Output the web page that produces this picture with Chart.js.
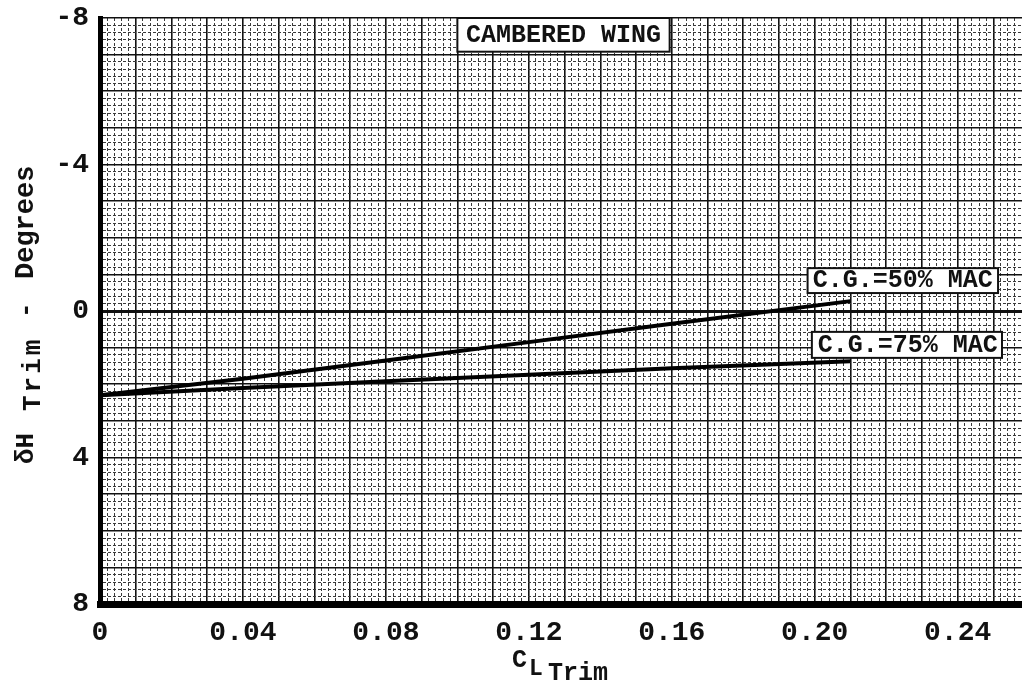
<!DOCTYPE html>
<html lang="en">
<head>
  <meta charset="UTF-8" />
  <title>Cambered Wing Trim</title>
  <script src="https://cdn.jsdelivr.net/npm/chart.js"></script>
  <style>
    body {
      margin: 0;
      background: #fff;
      overflow: hidden;
    }
    #wrap {
      width: 1022px;
      height: 687px;
      position: relative;
    }
  </style>
</head>
<body>
<div id="wrap"><canvas id="trim-chart"></canvas></div>

<script>
// CL trim vs horizontal tail deflection, two C.G. positions
const cl50 = [0, 0.04, 0.08, 0.12, 0.16, 0.21];
const dh50 = [2.3, 1.85, 1.35, 0.85, 0.35, -0.27];
const cl75 = [0, 0.04, 0.08, 0.12, 0.16, 0.21];
const dh75 = [2.3, 2.1, 1.92, 1.74, 1.56, 1.37];
const seriesLabels = ['C.G.=50% MAC', 'C.G.=75% MAC'];
const xTickLabels = [0, 0.04, 0.08, 0.12, 0.16, 0.20, 0.24];
const yTickLabels = [-8, -4, 0, 4, 8];
const chartTitle = 'CAMBERED WING';

const FONT = '"Liberation Mono", "DejaVu Sans Mono", monospace';
const X_STEP = 0.002, Y_STEP = 0.2;

function pts(xs, ys) {
  return xs.map((x, i) => ({ x, y: ys[i] }));
}

function isMajor(v, step) {
  return Math.round(v / step) % 5 === 0;
}

// boxed text labels and the two axis titles
const notes = {
  id: 'notes',
  afterDatasetsDraw(chart) {
    const { ctx, scales: { x, y } } = chart;
    ctx.save();

    function box(x0, x1, y0, y1, text, cx, cy, size) {
      const l = x.getPixelForValue(x0), r = x.getPixelForValue(x1);
      const t = y.getPixelForValue(y0), b = y.getPixelForValue(y1);
      ctx.fillStyle = '#fff';
      ctx.fillRect(l, t, r - l, b - t);
      ctx.strokeStyle = '#111';
      ctx.lineWidth = 2;
      ctx.strokeRect(l, t, r - l, b - t);
      ctx.fillStyle = '#111';
      ctx.font = `bold ${size}px ${FONT}`;
      ctx.textAlign = 'center';
      ctx.textBaseline = 'middle';
      ctx.fillText(text, x.getPixelForValue(cx), y.getPixelForValue(cy));
    }

    box(0.1, 0.1594, -8, -7.08, chartTitle, 0.1297, -7.52, 25);
    box(0.198, 0.2513, -1.17, -0.49, seriesLabels[0], 0.2246, -0.83, 25);
    box(0.1992, 0.2524, 0.57, 1.28, seriesLabels[1], 0.226, 0.95, 25);

    // x title: C with "L Trim" lowered
    ctx.fillStyle = '#111';
    ctx.textAlign = 'left';
    ctx.textBaseline = 'alphabetic';
    ctx.font = `bold 25px ${FONT}`;
    ctx.fillText('C', 512, 667);
    ctx.font = `bold 23px ${FONT}`;
    ctx.fillText('L', 529, 675);
    ctx.font = `bold 25px ${FONT}`;
    ctx.fillText('Trim', 548, 680);

    // y title, rotated, pieces placed along the axis
    function vtext(text, bx, by, size, spacing) {
      ctx.save();
      ctx.translate(bx, by);
      ctx.rotate(-Math.PI / 2);
      ctx.font = `bold ${size}px ${FONT}`;
      ctx.letterSpacing = spacing || '0px';
      ctx.fillText(text, 0, 0);
      ctx.restore();
    }
    vtext('\u03b4H', 33, 464, 26);
    vtext('Trim', 40, 411, 26, '3px');
    vtext('-', 33, 318, 26);
    vtext('Degrees', 33, 279, 27);

    ctx.restore();
  }
};

const lineStyle = {
  borderColor: '#000',
  borderWidth: 4,
  pointRadius: 0,
  tension: 0,
  fill: false
};

new Chart(document.getElementById('trim-chart'), {
  type: 'line',
  data: {
    datasets: [
      { label: seriesLabels[0], data: pts(cl50, dh50), ...lineStyle },
      { label: seriesLabels[1], data: pts(cl75, dh75), ...lineStyle }
    ]
  },
  options: {
    responsive: true,
    maintainAspectRatio: false,
    animation: false,
    layout: { padding: { top: 18, right: 0, left: 0, bottom: 0 } },
    plugins: {
      legend: { display: false },
      tooltip: { enabled: false }
    },
    scales: {
      x: {
        type: 'linear',
        min: 0,
        max: 0.258,
        afterFit: s => { s.height = 83; },
        border: {
          color: '#000',
          width: 7,
          dash: c => (isMajor(c.tick.value, X_STEP) ? [] : [3, 2])
        },
        grid: {
          drawTicks: true,
          tickLength: 12,
          tickColor: 'rgba(0,0,0,0)',
          color: c => (isMajor(c.tick.value, X_STEP) ? '#111' : '#3a3a3a'),
          lineWidth: c => (isMajor(c.tick.value, X_STEP) ? 1.6 : 1)
        },
        ticks: {
          stepSize: X_STEP,
          autoSkip: false,
          maxRotation: 0,
          padding: 0,
          color: '#111',
          font: { family: FONT, size: 28, weight: 'bold' },
          callback: v => {
            const hit = xTickLabels.find(t => Math.abs(t - v) < 1e-6);
            if (hit === undefined) return '';
            return hit === 0 ? '0' : hit.toFixed(2);
          }
        }
      },
      y: {
        type: 'linear',
        reverse: true,
        min: -8,
        max: 8,
        afterFit: s => { s.width = 100; },
        border: {
          color: '#000',
          width: 5,
          dash: c => (isMajor(c.tick.value, Y_STEP) ? [] : [3, 2])
        },
        grid: {
          drawTicks: true,
          tickLength: 11,
          tickColor: 'rgba(0,0,0,0)',
          color: c => (isMajor(c.tick.value, Y_STEP) ? '#111' : '#3a3a3a'),
          lineWidth: c => {
            const k = Math.round(c.tick.value / Y_STEP);
            if (k === 0) return 3;
            return k % 5 === 0 ? 1.6 : 1;
          }
        },
        ticks: {
          stepSize: Y_STEP,
          autoSkip: false,
          padding: 0,
          color: '#111',
          font: { family: FONT, size: 28, weight: 'bold' },
          callback: v => {
            const hit = yTickLabels.find(t => Math.abs(t - v) < 1e-6);
            return hit === undefined ? '' : String(hit);
          }
        }
      }
    }
  },
  plugins: [notes]
});
</script>
</body>
</html>
